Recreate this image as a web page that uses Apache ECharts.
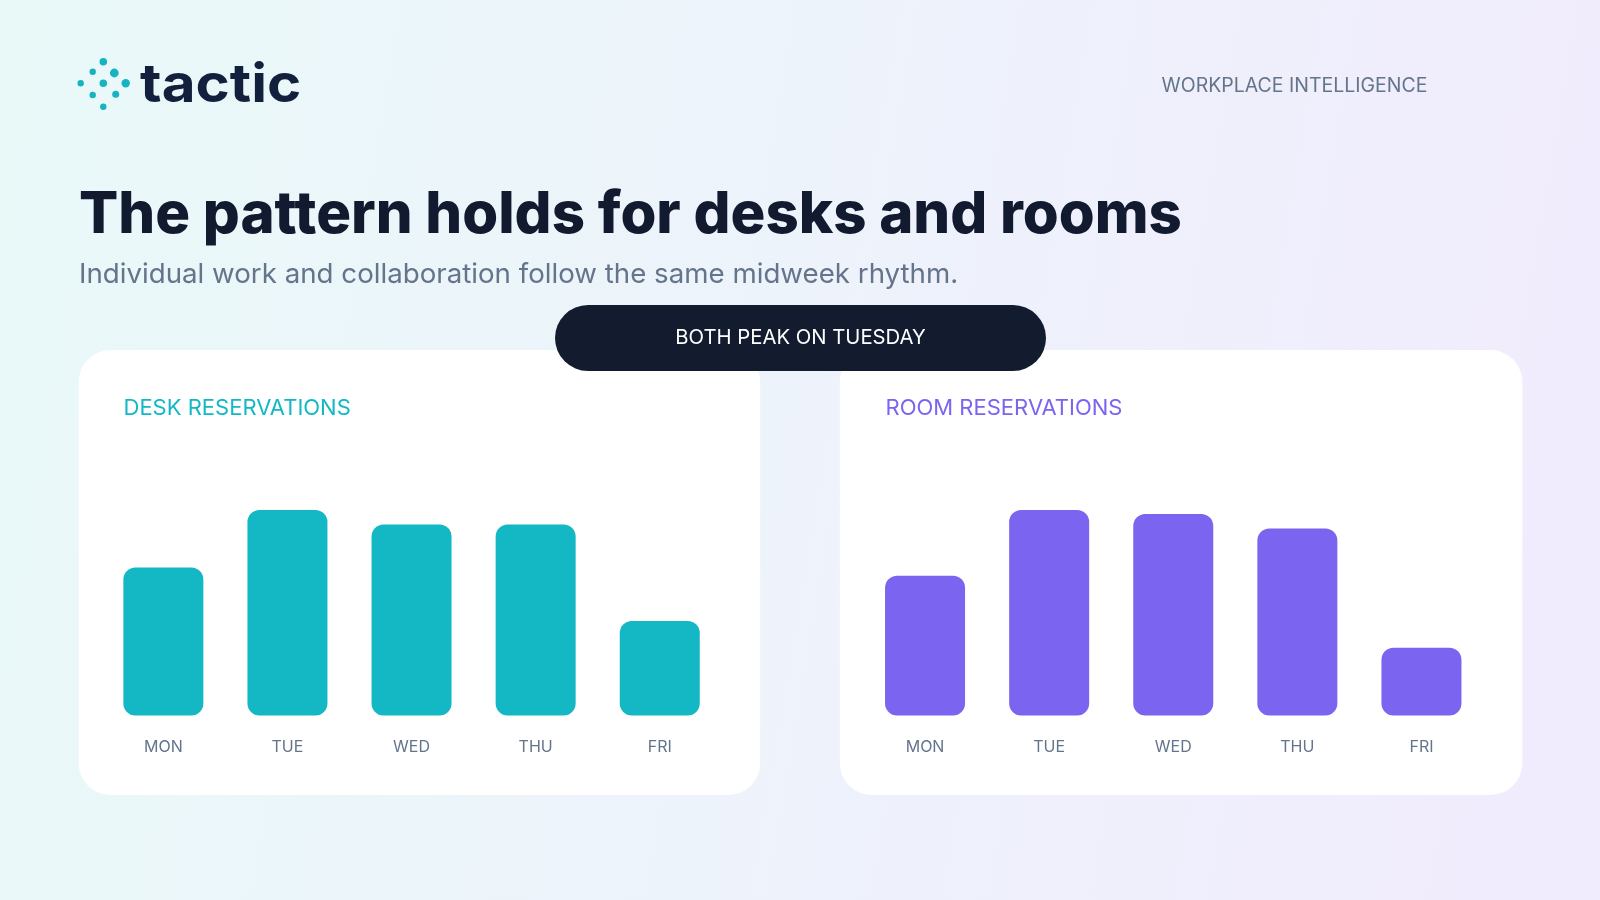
<!DOCTYPE html>
<html>
<head>
<meta charset="utf-8">
<script src="https://cdn.jsdelivr.net/npm/echarts@6/dist/echarts.min.js"></script>
<style>
html,body{margin:0;padding:0;width:1600px;height:900px;overflow:hidden;}
#chart{width:1600px;height:900px;}
</style>
</head>
<body>
<div id="chart"></div>
<script>
// ---- data ----
const days = ['MON', 'TUE', 'WED', 'THU', 'FRI'];
const deskValues = [72, 100, 93, 93, 46];
const roomValues = [68, 100, 98, 91, 33];
const deskTitle = 'DESK RESERVATIONS';
const roomTitle = 'ROOM RESERVATIONS';
const headline = 'The pattern holds for desks and rooms';
const subline = 'Individual work and collaboration follow the same midweek rhythm.';
const badge = 'BOTH PEAK ON TUESDAY';
const brand = 'tactic';
const tagline = 'WORKPLACE INTELLIGENCE';

const TEAL = '#14B8C5';
const PURPLE = '#7A64F0';
const NAVY = '#121A2F';
const SLATE = '#64748B';
const FONT = 'Inter, "Noto Sans", sans-serif';

const chart = echarts.init(document.getElementById('chart'), null, {renderer: 'canvas'});

const logoDots = [
  [103.3, 61.7, 3.8], [92.7, 71.7, 3.2], [114.3, 73, 4.4],
  [80.7, 83.3, 3.2], [103.3, 83.3, 3.8], [125.7, 83.3, 4.2],
  [92.7, 95, 3.2], [115.7, 94.3, 3.5], [103.3, 106.7, 3.2]
];

const graphics = [
  {type: 'rect', z: -100, silent: true, shape: {x: 0, y: 0, width: 1600, height: 900},
   style: {fill: {type: 'linear', x: 0, y: 0, x2: 1, y2: 0.3, colorStops: [
     {offset: 0, color: '#E9F9F8'}, {offset: 0.5, color: '#EDF3FB'}, {offset: 1, color: '#F1ECFD'}]}}},
  {type: 'rect', z: -50, shape: {x: 78.6, y: 350, width: 681.6, height: 445, r: 32}, style: {fill: '#FFFFFF'}},
  {type: 'rect', z: -50, shape: {x: 839.8, y: 350, width: 682.6, height: 445, r: 32}, style: {fill: '#FFFFFF'}},
  {type: 'rect', z: 100, shape: {x: 555, y: 305, width: 491, height: 66, r: 33}, style: {fill: '#131B2F'}},
  {type: 'text', z: 101, style: {text: badge, x: 800.5, y: 337.5, align: 'center', verticalAlign: 'middle',
    fill: '#FFFFFF', font: '400 20.3px ' + FONT}},
  {type: 'text', x: 79, y: 216, style: {text: headline, x: 0, y: 0, align: 'left', verticalAlign: 'middle',
    fill: NAVY, font: '800 58.1px ' + FONT}},
  {type: 'text', style: {text: subline, x: 79, y: 275, align: 'left', verticalAlign: 'middle',
    fill: SLATE, font: '400 27.7px ' + FONT}},
  {type: 'text', style: {text: tagline, x: 1427.5, y: 86.5, align: 'right', verticalAlign: 'middle',
    fill: SLATE, font: '400 19.5px ' + FONT}},
  {type: 'text', style: {text: deskTitle, x: 123.5, y: 408, align: 'left', verticalAlign: 'middle',
    fill: TEAL, font: '400 22px ' + FONT}},
  {type: 'text', style: {text: roomTitle, x: 885.5, y: 408, align: 'left', verticalAlign: 'middle',
    fill: PURPLE, font: '400 22px ' + FONT}},
  {type: 'text', x: 140, y: 86, scaleX: 1.08, style: {text: brand, x: 0, y: 0, align: 'left', verticalAlign: 'middle',
    fill: '#13203D', font: '700 54px ' + FONT}}
];
logoDots.forEach(d => graphics.push({type: 'circle', shape: {cx: d[0], cy: d[1], r: d[2]}, style: {fill: '#17B3C0'}}));

function catAxis(idx) {
  return {
    type: 'category', gridIndex: idx, data: days,
    axisLine: {show: false}, axisTick: {show: false}, splitLine: {show: false},
    axisLabel: {color: SLATE, fontSize: 16, fontFamily: FONT, margin: 24}
  };
}
function valAxis(idx) {
  return {type: 'value', gridIndex: idx, min: 0, max: 100, show: false, splitLine: {show: false}};
}

chart.setOption({
  animation: false,
  graphic: graphics,
  grid: [
    {left: 101.3, width: 620.5, top: 510, height: 205.5},
    {left: 863, width: 620.5, top: 510, height: 205.5}
  ],
  xAxis: [catAxis(0), catAxis(1)],
  yAxis: [valAxis(0), valAxis(1)],
  series: [
    {type: 'bar', xAxisIndex: 0, yAxisIndex: 0, data: deskValues, barWidth: 80,
     itemStyle: {color: TEAL, borderRadius: 12}},
    {type: 'bar', xAxisIndex: 1, yAxisIndex: 1, data: roomValues, barWidth: 80,
     itemStyle: {color: PURPLE, borderRadius: 12}}
  ]
});
</script>
</body>
</html>
